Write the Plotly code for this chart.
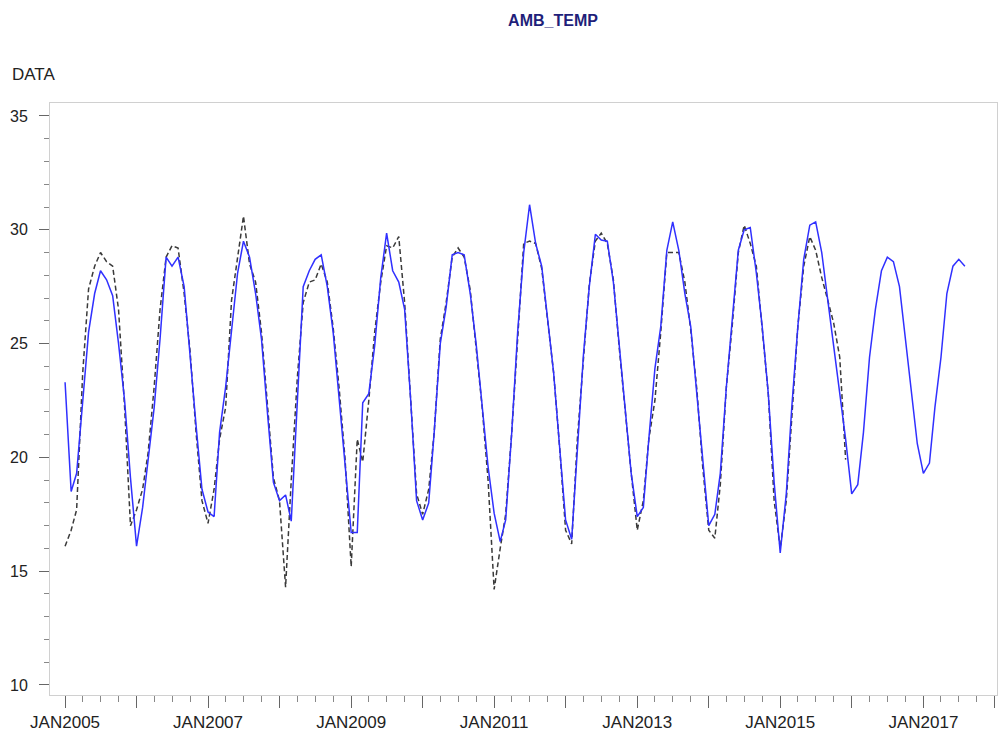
import pandas as pd
import plotly.graph_objects as go

# ---- data (monthly, starting JAN2005) ----
blue_vals = [
    23.3, 18.5, 19.3, 22.5, 25.5, 27.2, 28.2, 27.8, 27.1, 25.0, 22.5, 19.1,   # 2005
    16.1, 17.8, 19.9, 22.2, 25.2, 28.8, 28.4, 28.8, 27.5, 24.3, 21.4, 18.6,   # 2006
    17.6, 17.4, 21.1, 23.1, 25.5, 28.1, 29.5, 28.8, 27.2, 25.2, 21.9, 18.9,   # 2007
    18.1, 18.35, 17.2, 22.4, 27.5, 28.2, 28.7, 28.9, 27.5, 25.5, 22.5, 19.6,  # 2008
    16.7, 16.7, 22.4, 22.8, 24.9, 27.9, 29.85, 28.2, 27.7, 26.5, 22.5, 18.1,  # 2009
    17.25, 18.0, 21.1, 25.0, 26.6, 28.9, 29.0, 28.9, 27.2, 25.0, 22.2, 19.6,  # 2010
    17.55, 16.3, 17.25, 21.1, 25.5, 29.0, 31.1, 29.4, 28.4, 26.2, 23.7, 20.5, # 2011
    17.25, 16.4, 20.5, 24.5, 27.5, 29.8, 29.55, 29.5, 27.7, 24.9, 21.9, 19.3, # 2012
    17.4, 17.8, 20.8, 23.9, 25.75, 29.1, 30.35, 29.1, 27.2, 25.75, 22.8, 19.9,# 2013
    17.0, 17.5, 19.3, 23.1, 26.0, 29.1, 30.0, 30.1, 28.1, 25.75, 22.8, 18.9,  # 2014
    15.8, 18.4, 22.2, 25.75, 28.7, 30.2, 30.35, 29.0, 26.9, 24.9, 22.8, 20.8, # 2015
    18.4, 18.8, 21.1, 24.4, 26.5, 28.2, 28.8, 28.6, 27.5, 25.2, 22.8, 20.6,   # 2016
    19.3, 19.75, 22.2, 24.4, 27.2, 28.4, 28.7, 28.4,                          # 2017
]

black_vals = [
    16.1, 16.8, 17.7, 23.7, 27.4, 28.4, 29.0, 28.6, 28.4, 26.5, 22.2, 17.0,   # 2005
    17.7, 18.6, 20.2, 23.1, 26.5, 28.8, 29.3, 29.2, 27.2, 24.7, 21.1, 18.1,   # 2006
    17.1, 18.6, 20.8, 22.2, 26.9, 28.7, 30.6, 28.5, 27.7, 25.5, 22.2, 19.1,   # 2007
    18.1, 14.3, 19.0, 23.5, 26.8, 27.7, 27.8, 28.5, 27.7, 25.7, 23.0, 19.9,   # 2008
    15.2, 20.8, 19.8, 22.5, 25.5, 27.7, 29.3, 29.2, 29.7, 26.8, 22.5, 18.4,   # 2009
    17.5, 18.6, 21.1, 25.2, 26.8, 28.8, 29.2, 28.8, 27.35, 24.9, 22.2, 19.0,  # 2010
    14.2, 16.0, 17.5, 21.1, 25.2, 29.4, 29.5, 29.4, 28.3, 26.1, 23.7, 20.5,   # 2011
    16.8, 16.2, 20.8, 24.3, 27.6, 29.5, 29.85, 29.4, 27.8, 24.8, 21.9, 19.3,  # 2012
    16.8, 18.1, 20.8, 22.5, 25.5, 29.0, 29.0, 29.0, 27.7, 25.6, 23.0, 19.6,   # 2013
    16.8, 16.45, 18.8, 23.1, 25.8, 29.0, 30.2, 29.4, 28.4, 25.75, 22.8, 18.1, # 2014
    16.0, 18.1, 21.8, 25.75, 28.4, 29.7, 29.1, 27.9, 26.9, 25.9, 24.4, 19.9,  # 2015
]

blue_dates = pd.date_range("2005-01-01", periods=len(blue_vals), freq="MS")
black_dates = pd.date_range("2005-01-01", periods=len(black_vals), freq="MS")

tick_years = list(range(2005, 2019))
tick_vals = [f"{y}-01-01" for y in tick_years]
tick_text = [f"JAN{y}" if (y - 2005) % 2 == 0 else "" for y in tick_years]

y_ticks = [10, 15, 20, 25, 30, 35]

FONT = "Liberation Sans"

fig = go.Figure()
fig.add_trace(go.Scatter(
    x=black_dates, y=black_vals, mode="lines",
    line=dict(color="#3a3a3a", width=1.5, dash="5px,3px"),
    showlegend=False,
))
fig.add_trace(go.Scatter(
    x=blue_dates, y=blue_vals, mode="lines",
    line=dict(color="#3030ff", width=1.5),
    showlegend=False,
))

fig.update_layout(
    width=1001, height=747,
    margin=dict(l=50, r=4, t=103, b=52),
    paper_bgcolor="white", plot_bgcolor="white",
    title=dict(text="<b>AMB_TEMP</b>", x=553 / 1001, xanchor="center",
               y=1 - 20 / 747, yanchor="middle",
               font=dict(family=FONT, size=16, color="#1f1f7a")),
    font=dict(family=FONT, size=15, color="#222222"),
    xaxis=dict(
        type="date",
        range=["2004-10-16", "2018-01-12"],
        tickmode="array", tickvals=tick_vals, ticktext=tick_text,
        ticks="outside", ticklen=12, tickwidth=1, tickcolor="#666666",
        minor=dict(dtick="M3", tick0="2005-01-01", ticks="outside",
                   ticklen=6, tickcolor="#888888", showgrid=False),
        showline=True, linecolor="#d0d0d0", linewidth=1, mirror=True,
        showgrid=False, zeroline=False,
        tickfont=dict(family=FONT, size=17, color="#222222"),
    ),
    yaxis=dict(
        range=[9.56, 35.57],
        tickmode="array", tickvals=y_ticks,
        ticks="outside", ticklen=10, tickwidth=1, tickcolor="#666666",
        ticklabelstandoff=8,
        minor=dict(dtick=1, tick0=10, ticks="outside", ticklen=5,
                   tickcolor="#888888", showgrid=False),
        showline=True, linecolor="#d0d0d0", linewidth=1, mirror=True,
        showgrid=False, zeroline=False,
        tickfont=dict(family=FONT, size=16, color="#222222"),
    ),
    annotations=[dict(
        text="DATA", xref="paper", yref="paper",
        x=(10 - 50) / 947, y=(695 - 75) / 592,
        xanchor="left", yanchor="middle", showarrow=False,
        font=dict(family=FONT, size=17, color="#222222"),
    )],
)

fig.write_html("out.html")
